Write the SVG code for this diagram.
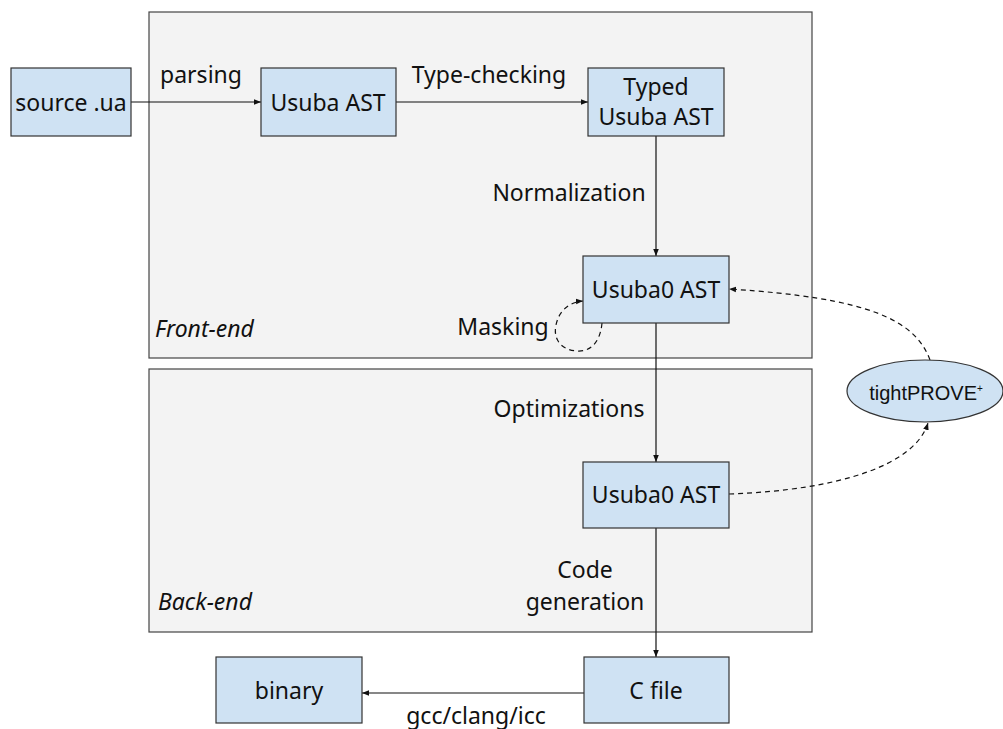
<svg xmlns="http://www.w3.org/2000/svg" width="1003" height="729" viewBox="0 0 1003 729">
<style>
.panel{fill:#f3f3f3;stroke:#444;stroke-width:1.2}
.node{fill:#cfe2f3;stroke:#333;stroke-width:1.2}
.t{font-family:"Noto Sans",sans-serif;font-size:23px;fill:#111;text-anchor:middle}
.it{font-family:"Noto Sans",sans-serif;font-size:23px;font-style:italic;fill:#111}
.e{fill:none;stroke:#111;stroke-width:1.2}
.d{fill:none;stroke:#111;stroke-width:1.2;stroke-dasharray:5,4}
</style>
<defs>
<marker id="ah" viewBox="0 0 10 10" refX="10" refY="5" markerWidth="7" markerHeight="7" orient="auto" markerUnits="userSpaceOnUse">
<path d="M0,1 L10,5 L0,9 z" fill="#111"/>
</marker>
</defs>
<g id="frontend">
<rect class="panel" x="149" y="12" width="663" height="346"/>
<text class="it" x="155" y="337">Front-end</text>
</g>
<g id="backend">
<rect class="panel" x="149" y="369" width="663" height="263"/>
<text class="it" x="158" y="610">Back-end</text>
</g>
<g id="connectors">
<line class="e" x1="131" y1="102" x2="261" y2="102" marker-end="url(#ah)"/>
<line class="e" x1="396" y1="102" x2="588" y2="102" marker-end="url(#ah)"/>
<line class="e" x1="656" y1="136" x2="656" y2="256" marker-end="url(#ah)"/>
<line class="e" x1="656" y1="323" x2="656" y2="462" marker-end="url(#ah)"/>
<line class="e" x1="656" y1="528" x2="656" y2="657" marker-end="url(#ah)"/>
<line class="e" x1="584" y1="693" x2="362" y2="693" marker-end="url(#ah)"/>
<path class="d" d="M602,323 C600,345 588,352 577,351 C560,350 553,338 556,325 C559,310 570,302 583,301" marker-end="url(#ah)"/>
<path class="d" d="M930,360 C915,320 870,298 729,289" marker-end="url(#ah)"/>
<path class="d" d="M729,494 C840,490 915,465 928,423" marker-end="url(#ah)"/>
<text class="t" x="201" y="83">parsing</text>
<text class="t" x="489" y="83">Type-checking</text>
<text class="t" x="569" y="201">Normalization</text>
<text class="t" x="503" y="335">Masking</text>
<text class="t" x="569" y="417">Optimizations</text>
<text class="t" x="585" y="578">Code</text>
<text class="t" x="585" y="610">generation</text>
<text class="t" x="476" y="724">gcc/clang/icc</text>
</g>
<g id="source">
<rect class="node" x="11" y="68" width="120" height="68"/>
<text class="t" x="71" y="111">source .ua</text>
</g>
<g id="usuba">
<rect class="node" x="261" y="68" width="135" height="68"/>
<text class="t" x="328" y="111">Usuba AST</text>
</g>
<g id="typed">
<rect class="node" x="588" y="68" width="136" height="68"/>
<text class="t" x="656" y="95">Typed</text>
<text class="t" x="656" y="125">Usuba AST</text>
</g>
<g id="usuba0a">
<rect class="node" x="583" y="256" width="146" height="67"/>
<text class="t" x="656" y="298">Usuba0 AST</text>
</g>
<g id="usuba0b">
<rect class="node" x="583" y="462" width="146" height="66"/>
<text class="t" x="656" y="503">Usuba0 AST</text>
</g>
<g id="cfile">
<rect class="node" x="584" y="657" width="145" height="66"/>
<text class="t" x="656" y="699">C file</text>
</g>
<g id="binary">
<rect class="node" x="216" y="657" width="146" height="66"/>
<text class="t" x="289" y="699">binary</text>
</g>
<g id="tightprove">
<ellipse class="node" cx="925" cy="391" rx="78" ry="31"/>
<text x="926" y="400" style="font-family:'Liberation Sans',Arial,sans-serif;font-size:20px;fill:#111;text-anchor:middle">tightPROVE<tspan font-size="10" dy="-8">+</tspan></text>
</g>
</svg>
